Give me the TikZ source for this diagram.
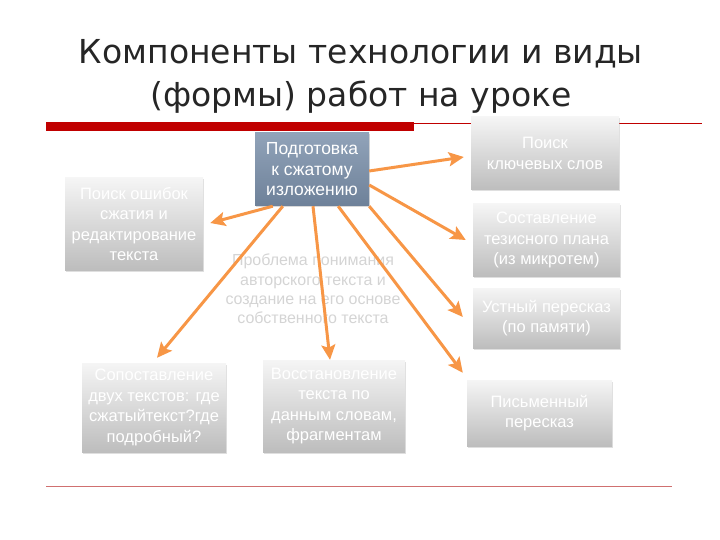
\documentclass[tikz,border=0pt]{standalone}
\usepackage{fontspec}
\setmainfont{Liberation Sans}
\newfontfamily\titlefont{DejaVu Sans}
\usetikzlibrary{arrows.meta,calc,shadows}
\definecolor{titlec}{HTML}{262626}
\definecolor{redbar}{HTML}{C00000}
\definecolor{redline}{HTML}{D07070}
\definecolor{arrowc}{HTML}{F79646}
\definecolor{boxtop}{HTML}{F5F5F5}
\definecolor{boxbot}{HTML}{BDBDBD}
\definecolor{ctop}{HTML}{91A3B9}
\definecolor{cbot}{HTML}{6E8199}
\definecolor{faint}{HTML}{D4D4D4}
\tikzset{
  greybox/.style={top color=boxtop, bottom color=boxbot, draw=none,
    drop shadow={shadow xshift=1pt, shadow yshift=-1.5pt, opacity=0.25},
    text=white, align=center, inner sep=0pt,
    font=\fontsize{16.5}{20.5}\selectfont},
  centerbox/.style={top color=ctop, bottom color=cbot, draw=none,
    drop shadow={shadow xshift=1pt, shadow yshift=-1.5pt, opacity=0.3},
    text=white, align=center, inner sep=0pt,
    font=\fontsize{17.5}{20.5}\selectfont},
  arr/.style={draw=arrowc, line width=3pt,
    -{Stealth[length=15pt,width=14pt,inset=3pt]}},
}
\begin{document}
\begin{tikzpicture}[x=1pt,y=-1pt]
\useasboundingbox (0,0) rectangle (720,540);
% title
\node[font=\titlefont\fontsize{33}{43}\selectfont, text=titlec, align=center] (title) at (361,76)
  {Компоненты технологии и виды\\(формы) работ на уроке};
% red bars
\coordinate (br) at (702,124);
\fill[redbar] (46,122) rectangle (414,131);
\draw[redbar, line width=1pt] (414,124) -- (br);
\draw[redline, line width=1pt] (46,486) -- (672,486);
% boxes
\node[centerbox, minimum width=114pt, minimum height=73pt] (c) at (312,169.5)
  {Подготовка\\к сжатому\\изложению};
\node[greybox, minimum width=148pt, minimum height=73pt] (k1) at (545,153.5)
  {Поиск\\ключевых слов};
\node[greybox, minimum width=138pt, minimum height=92pt] (k2) at (134,224)
  {Поиск ошибок\\сжатия и\\редактирование\\текста};
\node[greybox, minimum width=147pt, minimum height=72pt] (k3) at (546.5,240)
  {Составление\\тезисного плана\\(из микротем)};
\node[greybox, minimum width=147pt, minimum height=60pt] (k4) at (546.5,318)
  {Устный пересказ\\(по памяти)};
\node[greybox, minimum width=144pt, minimum height=89pt] (k5) at (154,407.5)
  {Сопоставление\\двух текстов: где\\сжатыйтекст?где\\подробный?};
\node[greybox, minimum width=142pt, minimum height=92pt] (k6) at (334,406)
  {Восстановление\\текста по\\данным словам,\\фрагментам};
\node[greybox, minimum width=145pt, minimum height=66pt] (k7) at (539.5,413)
  {Письменный\\пересказ};
\node[text=faint, align=center, font=\fontsize{16}{19.3}\selectfont] (p) at (313,289)
  {Проблема понимания\\авторского текста и\\создание на его основе\\собственного текста};
% arrows
\draw[arr] ($(c.east)+(0,1.5)$) -- ($(k1.west)+(-7,3.5)$);
\draw[arr] ($(c.east)+(0,15.5)$) -- ($(k3.west)+(-7,0)$);
\draw[arr] (c.south east) -- ($(k4.west)+(-10,-1)$);
\draw[arr] ($(c.south east)+(-31,0)$) -- ($(k7.north west)+(-4,-7)$);
\draw[arr] ($(c.south)+(1,0)$) -- ($(k6.north)+(-4,0)$);
\draw[arr] ($(c.south west)+(28,0)$) -- ($(k5.north)+(3,-5)$);
\draw[arr] ($(c.south west)+(18,0)$) -- ($(k2.east)+(7,-1)$);
\end{tikzpicture}
\end{document}
